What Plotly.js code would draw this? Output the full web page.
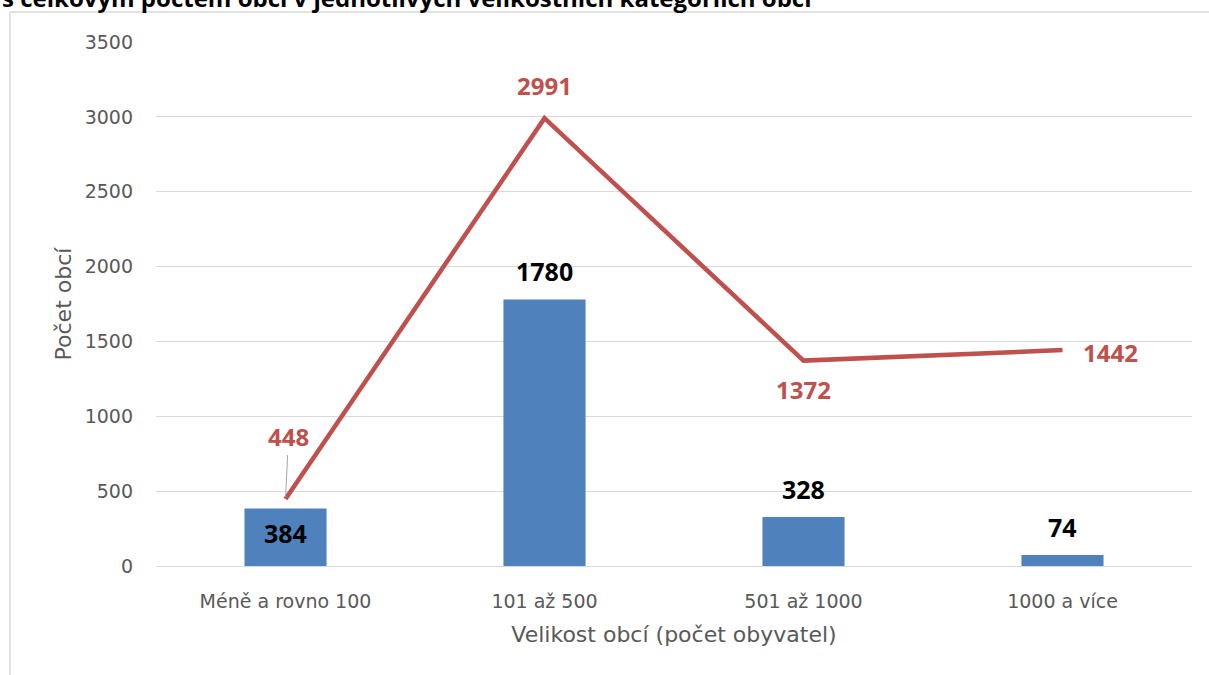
<!DOCTYPE html>
<html><head><meta charset="utf-8">
<script src="https://cdn.plot.ly/plotly-3.0.1.min.js"></script>
<style>html,body{margin:0;padding:0;background:#fff;}#chart{width:1209px;height:675px;}</style>
</head><body><div id="chart"></div>
<script>
const categories = ['Méně a rovno 100', '101 až 500', '501 až 1000', '1000 a více'];
const barValues = [384, 1780, 328, 74];
const lineValues = [448, 2991, 1372, 1442];
const yTicks = [0, 500, 1000, 1500, 2000, 2500, 3000, 3500];
const titleText = 's celkovým počtem obcí v jednotlivých velikostních kategoriích obcí';

const FONT = 'DejaVu Sans, sans-serif';
const BOLD = 'Open Sans, Liberation Sans, sans-serif';
const barColor = '#4F81BD';
const lineColor = '#C0504D';

const barLabelOffsets = [-24, 29, 28, 28];
const lineLabel = [
  {ax: 3, ay: -62, arrow: true},
  {ax: 0, ay: -33},
  {ax: 0, ay: 29},
  {ax: 48, ay: 2}
];

const annotations = [];
categories.forEach((c, i) => {
  annotations.push({x: c, y: barValues[i], xref: 'x', yref: 'y', text: String(barValues[i]),
    showarrow: false, yshift: barLabelOffsets[i],
    font: {family: BOLD, size: 25, color: '#000', weight: 'bold'}});
  const L = lineLabel[i];
  annotations.push({x: c, y: lineValues[i], xref: 'x', yref: 'y', text: String(lineValues[i]),
    showarrow: true, arrowhead: 0, arrowwidth: L.arrow ? 1 : 0.1,
    arrowcolor: L.arrow ? '#A6A6A6' : 'rgba(0,0,0,0)', standoff: L.arrow ? 2 : 0,
    ax: L.ax, ay: L.ay,
    font: {family: BOLD, size: 24, color: lineColor, weight: 'bold'}});
});
annotations.push({xref: 'paper', yref: 'paper', x: -0.1506, y: 1.085, xanchor: 'left', yanchor: 'middle',
  text: '<b>' + titleText + '</b>', showarrow: false,
  font: {family: BOLD, size: 24, color: '#000'}});

const data = [
  {type: 'bar', x: categories, y: barValues, marker: {color: barColor}, width: 0.317, hoverinfo: 'skip'},
  {type: 'scatter', mode: 'lines', x: categories, y: lineValues,
   line: {color: lineColor, width: 4.5}, hoverinfo: 'skip'}
];

const layout = {
  width: 1209, height: 675,
  margin: {l: 156, r: 17, t: 42, b: 109},
  paper_bgcolor: '#fff', plot_bgcolor: '#fff',
  showlegend: false,
  xaxis: {type: 'category', showgrid: false, zeroline: false, showline: false,
    ticks: '', ticklabelstandoff: 22,
    tickfont: {family: FONT, size: 19, color: '#595959'},
    title: {text: 'Velikost obcí (počet obyvatel)', standoff: 15,
      font: {family: FONT, size: 22, color: '#595959'}}},
  yaxis: {range: [0, 3500], tickvals: yTicks, showgrid: true, gridcolor: '#D9D9D9', gridwidth: 1,
    zeroline: true, zerolinecolor: '#D9D9D9', zerolinewidth: 1, showline: false,
    ticks: '', ticklabelstandoff: 22,
    tickfont: {family: FONT, size: 19, color: '#595959'},
    title: {text: 'Počet obcí', standoff: 6,
      font: {family: FONT, size: 22, color: '#595959'}}},
  annotations: annotations,
  shapes: [
    {type: 'line', xref: 'paper', yref: 'paper', x0: -0.1409, x1: -0.1409, y0: 1.0573, y1: -0.3,
      line: {color: '#D9D9D9', width: 1.5}},
    {type: 'line', xref: 'paper', yref: 'paper', x0: -0.1409, x1: 1.2, y0: 1.0573, y1: 1.0573,
      line: {color: '#D9D9D9', width: 1.5}}
  ]
};

Plotly.newPlot('chart', data, layout, {displayModeBar: false, staticPlot: true});
</script></body></html>
